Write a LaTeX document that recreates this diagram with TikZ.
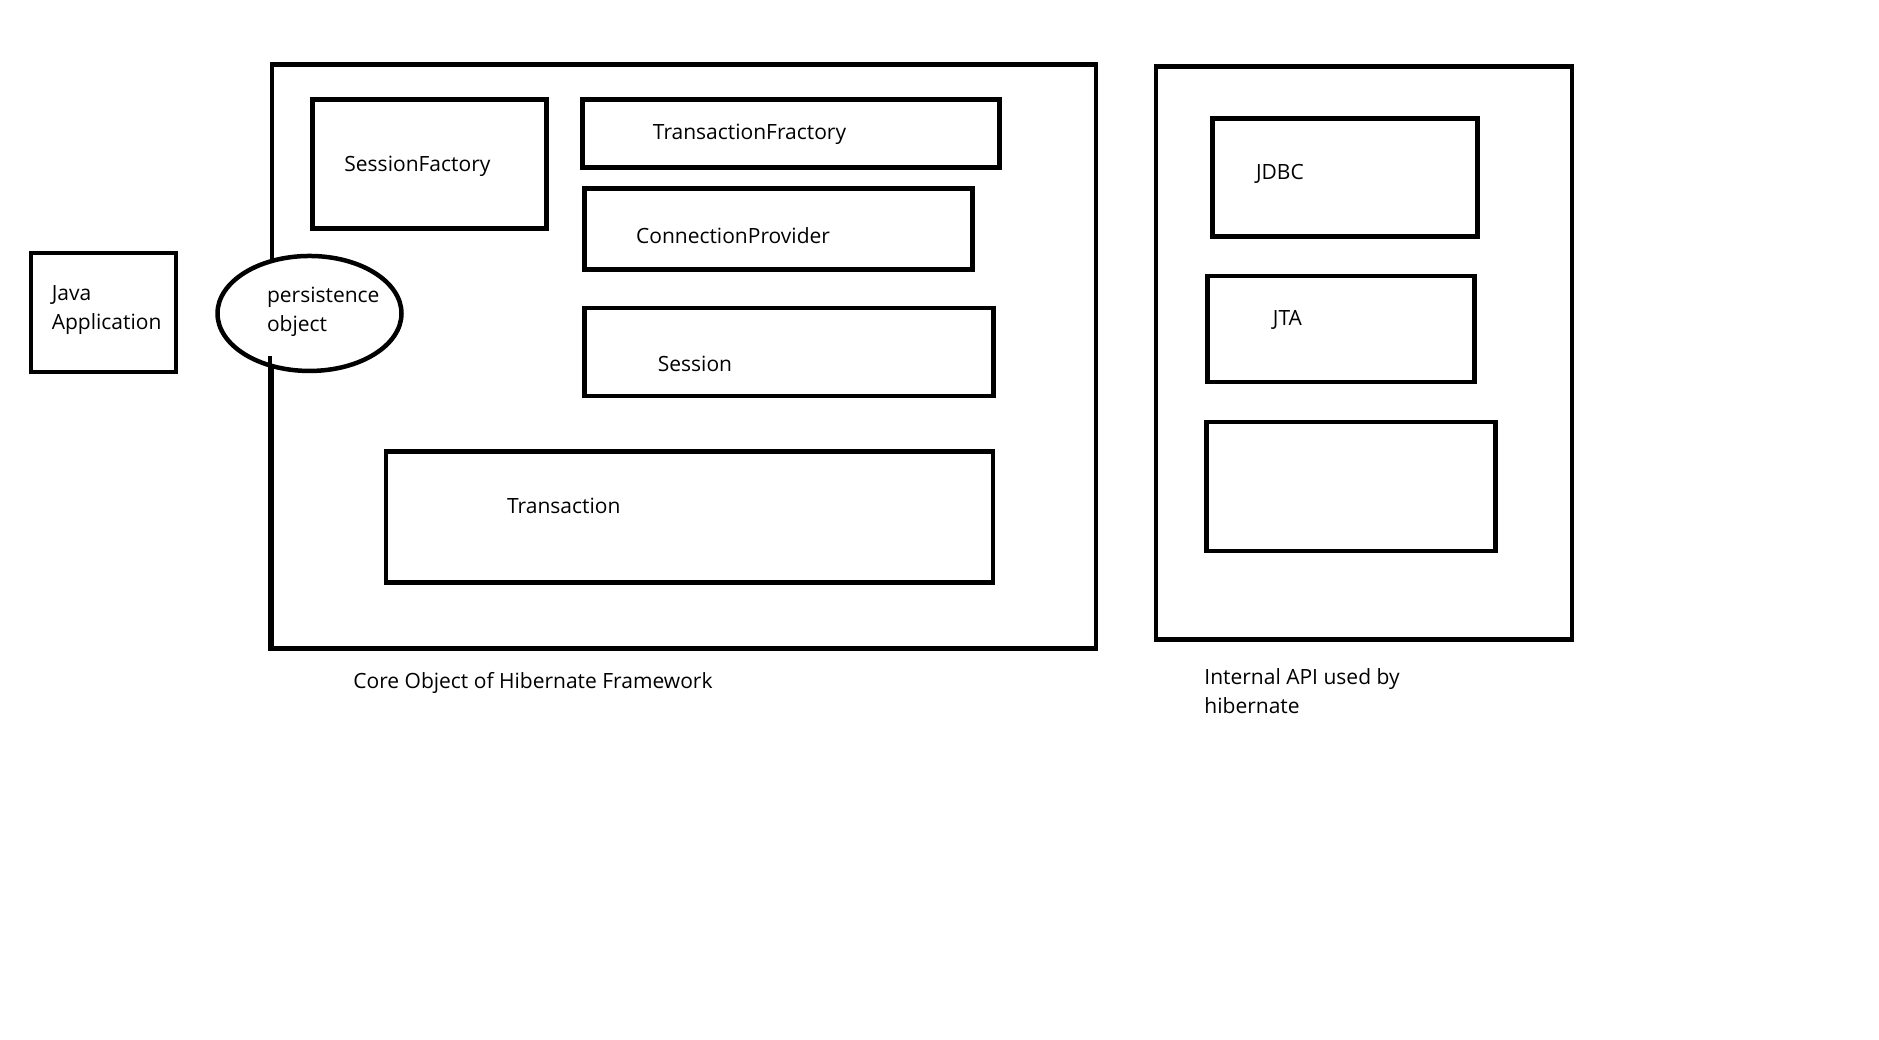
\documentclass[tikz,border=0pt]{standalone}
\usepackage{fontspec}
\setmainfont{Open Sans}
\usetikzlibrary{shapes.geometric}
\begin{document}
\begin{tikzpicture}[x=0.992pt,y=-0.992pt,
  box/.style={draw=black,line width=4.5pt,rectangle,inner sep=0pt,anchor=north west},
  lbl/.style={anchor=base west,inner sep=0pt,font=\fontsize{21}{29}\selectfont,align=left},
]
\useasboundingbox[fill=white] (0,0) rectangle (1894.2,1048.4);
% core box
\node[box,minimum width=824pt,minimum height=584pt] (core) at (272,63) {};
% persistence object ellipse
\node[ellipse,draw=black,line width=4.5pt,fill=white,minimum width=184pt,minimum height=115pt,inner sep=0pt] (po) at (312,316) {};
\coordinate (cut) at (272,359);
\draw[line width=4.5pt] (cut) -- (core.south west);
\node[lbl] (potxt) at (269,334) {persistence\\object};
% java application
\node[box,minimum width=145pt,minimum height=119pt] (java) at (29,253) {};
\node[lbl] (javatxt) at (52,332) {Java\\Application};
% inner boxes
\node[box,minimum width=234pt,minimum height=129pt] (sf) at (313,98) {};
\node[lbl] (sftxt) at (347,173) {SessionFactory};
\node[box,minimum width=417pt,minimum height=68pt] (tf) at (585,98) {};
\node[lbl] (tftxt) at (658,141) {TransactionFractory};
\node[box,minimum width=388pt,minimum height=81pt] (cp) at (587,188) {};
\node[lbl] (cptxt) at (641,245) {ConnectionProvider};
\node[box,minimum width=409pt,minimum height=88pt] (ses) at (587,308) {};
\node[lbl] (sestxt) at (663,374) {Session};
\node[box,minimum width=607pt,minimum height=131pt] (tr) at (387,453) {};
\node[lbl] (trtxt) at (511,518) {Transaction};
\node[lbl] (coretxt) at (356,694) {Core Object of Hibernate Framework};
% internal API
\node[box,minimum width=416pt,minimum height=573pt] (api) at (1163,65) {};
\node[box,minimum width=265pt,minimum height=118pt] (jdbc) at (1220,117) {};
\node[lbl] (jdbctxt) at (1266,181) {JDBC};
\node[box,minimum width=267pt,minimum height=106pt] (jta) at (1215,276) {};
\node[lbl] (jtatxt) at (1283,328) {JTA};
\node[box,minimum width=289pt,minimum height=129pt] (empty) at (1214,423) {};
\node[lbl] (apitxt) at (1214,719) {Internal API used by\\hibernate};
\end{tikzpicture}
\end{document}
